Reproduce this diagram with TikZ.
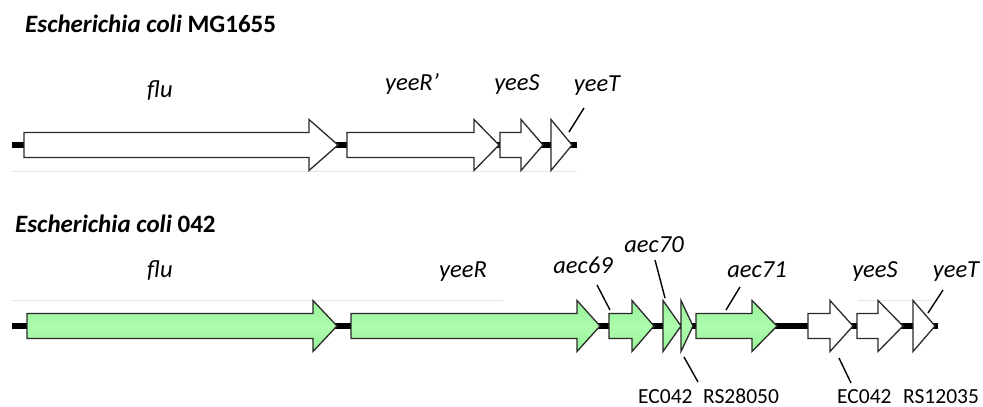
\documentclass[tikz,border=0pt]{standalone}
\usepackage{fontspec}
\setmainfont{Carlito}
\definecolor{genegreen}{HTML}{96F496}
\definecolor{genegreenhi}{HTML}{AEFBAE}
\definecolor{edgegray}{HTML}{2A2A2A}
\definecolor{rulegray}{HTML}{E4E4E4}
\tikzset{
  backbone/.style={line width=5.5pt, black},
  ruler/.style={line width=0.8pt, rulegray},
  orfwhite/.style={draw=edgegray, line width=1.3pt, fill=white, line join=miter},
  orfgreen/.style={draw=edgegray, line width=1.3pt, line join=miter,
    top color=genegreen, bottom color=genegreen, middle color=genegreenhi},
  leader/.style={line width=1.4pt, black},
  genelabel/.style={font=\fontsize{24.5}{28}\selectfont\itshape, anchor=base, inner sep=0pt},
  locuslabel/.style={font=\fontsize{21.5}{24}\selectfont, anchor=base west, inner sep=0pt},
  straintitle/.style={font=\fontsize{25}{28}\selectfont\bfseries, anchor=base west, inner sep=0pt}
}
% gene drawn as a block arrow: name, start x, head x, tip x, centre y, style
\newcommand\genearrow[6]{%
  \draw[#6] (#2,#5-12.5) -- (#3,#5-12.5) -- (#3,#5-25.5) -- (#4,#5)
    -- (#3,#5+25.5) -- (#3,#5+12.5) -- (#2,#5+12.5) -- cycle;
  \coordinate (#1) at ({(#2+#4)/2},#5);}
% short gene drawn as a triangle: name, base x, tip x, centre y, style
\newcommand\genetriangle[5]{%
  \draw[#5] (#2,#4-25.5) -- (#3,#4) -- (#2,#4+25.5) -- cycle;
  \coordinate (#1) at ({(#2+#3)/2},#4);}
\begin{document}
\begin{tikzpicture}[x=1pt, y=-1pt]
\useasboundingbox (0,0) rectangle (983,407);

% ---------------- E. coli MG1655 ----------------
\node[straintitle] (titleA) at (25,32) {\textit{Escherichia coli} MG1655};
\coordinate (lineAstart) at (12,145);
\coordinate (lineAend) at (577,145);
\draw[backbone] (lineAstart) -- (lineAend);
\draw[ruler] (12,171) -- (577,171);

\genearrow{fluA}{24}{309}{338}{145}{orfwhite}
\genearrow{yeeRA}{347}{474}{499}{145}{orfwhite}
\genearrow{yeeSA}{500}{521}{543}{145}{orfwhite}
\genetriangle{yeeTA}{551}{572}{145}{orfwhite}

\node[genelabel] (lfluA) at (160,97) {flu};
\node[genelabel] (lyeeRA) at (412,90) {yeeR’};
\node[genelabel] (lyeeSA) at (517,90) {yeeS};
\node[genelabel] (lyeeTA) at (597,91) {yeeT};
\coordinate (pyeeTA1) at (569,132);
\coordinate (pyeeTA2) at (584,108);
\draw[leader] (pyeeTA1) -- (pyeeTA2);

% ---------------- E. coli 042 ----------------
\node[straintitle] (titleB) at (15,232) {\textit{Escherichia coli} 042};
\coordinate (lineBstart) at (12,326);
\coordinate (lineBend) at (938,326);
\draw[backbone] (lineBstart) -- (lineBend);
\draw[ruler] (12,300) -- (503,300);
\draw[ruler] (858,300) -- (932,300);

\genearrow{fluB}{27}{313}{337}{326}{orfgreen}
\genearrow{yeeRB}{351}{577}{600}{326}{orfgreen}
\genearrow{aecA}{609}{632}{654}{326}{orfgreen}
\genetriangle{aecB}{663}{681}{326}{orfgreen}
\genetriangle{rsA}{681}{693}{326}{orfgreen}
\genearrow{aecC}{696}{752}{777}{326}{orfgreen}
\genearrow{rsB}{808}{830}{853}{326}{orfwhite}
\genearrow{yeeSB}{857}{878}{903}{326}{orfwhite}
\genetriangle{yeeTB}{913}{935}{326}{orfwhite}

\node[genelabel] (lfluB) at (160,277) {flu};
\node[genelabel] (lyeeRB) at (463,277) {yeeR};
\node[genelabel] (laecA) at (583,273) {aec69};
\node[genelabel] (laecB) at (654,252) {aec70};
\node[genelabel] (laecC) at (757,277) {aec71};
\node[genelabel] (lyeeSB) at (875,277) {yeeS};
\node[genelabel] (lyeeTB) at (956,277) {yeeT};

\node[locuslabel] (lrsA1) at (638,403) {EC042};
\node[locuslabel] (lrsA2) at (703,403) {RS28050};
\node[locuslabel] (lrsB1) at (837,403) {EC042};
\node[locuslabel] (lrsB2) at (903,403) {RS12035};

% leader lines from labels to short genes
\coordinate (paecA1) at (597,285);  \coordinate (paecA2) at (610,310);
\coordinate (paecB1) at (655,260);  \coordinate (paecB2) at (665,298);
\coordinate (paecC1) at (740,287);  \coordinate (paecC2) at (726,310);
\coordinate (pyeeTB1) at (943,290); \coordinate (pyeeTB2) at (928,313);
\coordinate (prsA1) at (684,357);   \coordinate (prsA2) at (698,382);
\coordinate (prsB1) at (839,358);   \coordinate (prsB2) at (851,383);
\draw[leader] (paecA1) -- (paecA2);
\draw[leader] (paecB1) -- (paecB2);
\draw[leader] (paecC1) -- (paecC2);
\draw[leader] (pyeeTB1) -- (pyeeTB2);
\draw[leader] (prsA1) -- (prsA2);
\draw[leader] (prsB1) -- (prsB2);
\end{tikzpicture}
\end{document}
